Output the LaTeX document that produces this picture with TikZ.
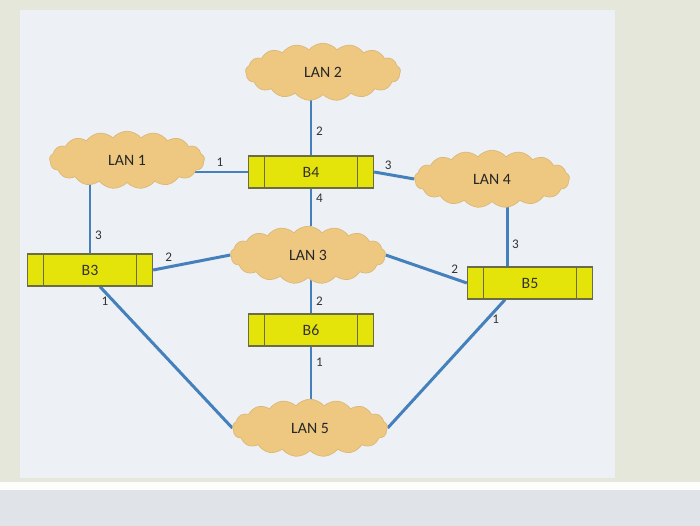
\documentclass[tikz,border=0pt]{standalone}
\usepackage{fontspec}
\setmainfont{Carlito}
\usepackage{xcolor}
\usepackage{tikz}
\usetikzlibrary{positioning, shapes.symbols, backgrounds}

\definecolor{lanfill}{RGB}{238,200,128}
\definecolor{bridgefill}{RGB}{228,228,10}
\definecolor{bridgeline}{RGB}{105,108,70}
\definecolor{wire}{RGB}{68,128,188}
\definecolor{screen}{RGB}{237,240,245}
\definecolor{frame}{RGB}{228,231,218}
\definecolor{desk}{RGB}{224,227,231}

\begin{document}
\begin{tikzpicture}[
        x=0.02cm, y=-0.02cm,
        lan/.style={cloud, cloud puffs=17, cloud puff arc=100, aspect=2.6,
          fill=lanfill, draw=lanfill!92!black, inner sep=0pt,
          minimum width=3.1cm, minimum height=1.15cm,
          font=\fontsize{9}{10}\selectfont, text=black!85},
        bridge/.style={rectangle, draw=bridgeline, fill=bridgefill, thick,
          minimum width=2.5cm, minimum height=0.64cm,
          font=\fontsize{9}{10}\selectfont, text=black!80,
          path picture={
            \draw[bridgeline, thick]
              ([xshift=0.32cm]path picture bounding box.north west) --
              ([xshift=0.32cm]path picture bounding box.south west)
              ([xshift=-0.32cm]path picture bounding box.north east) --
              ([xshift=-0.32cm]path picture bounding box.south east);
          }},
        port/.style={font=\fontsize{7.5}{8}\selectfont, text=black!80, inner sep=2pt},
        every edge/.style={draw=wire, line width=1.7pt},
      ]

      \useasboundingbox (0,0) rectangle (700,526);

      \node[lan] (lan2) at (323,72)  {LAN 2};
      \node[lan] (lan1) at (127,160) {LAN 1};
      \node[lan] (lan4) at (492,179) {LAN 4};
      \node[lan] (lan3) at (308,255) {LAN 3};
      \node[lan] (lan5) at (310,428) {LAN 5};

      \node[bridge] (b4) at (311,172) {B4};
      \node[bridge] (b3) at (90,270)  {B3};
      \node[bridge] (b5) at (530,283) {B5};
      \node[bridge] (b6) at (311,330) {B6};

      \begin{pgfonlayer}{background}
      \fill[frame] (0,0) rectangle (700,526);
      \fill[screen] (20,10) rectangle (615,478);
      \fill[white!92!frame] (0,482) rectangle (700,490);
      \fill[desk] (0,490) rectangle (700,526);

      % wires run under the clouds
      \path
      (b4.north) edge node [port, pos=0.4, right] {2} (b4.north |- lan2.south)
      (b4.west)  edge node [port, pos=0.23, above] {1} (b4.west -| lan1)
      (b4.east)  edge node [port, pos=0.35, above] {3} (lan4.west)
      (b4.south) edge node [port, pos=0.25, right] {4} (b4.south |- lan3.north)
      (b3.north) edge node [port, pos=0.25, right] {3} (b3.north |- lan1.south)
      (b3.east)  edge node [port, pos=0.2, above] {2} (lan3.west)
      ([xshift=0.2cm]b3.south) edge node [port, pos=0.1, left] {1} (lan5.west)
      (b6.north) edge node [port, pos=0.35, right] {2} (b6.north |- lan3.south)
      (b6.south) edge node [port, pos=0.3, right] {1} (b6.south |- lan5.north)
      (b5.west)  edge node [port, pos=0.15, above] {2} (lan3.east)
      ([xshift=-0.46cm]b5.north) edge node [port, pos=0.35, right] {3}
        ([xshift=-0.46cm]b5.north |- lan4.south)
      ([xshift=-0.5cm]b5.south) edge node [port, pos=0.15, right] {1} (lan5.east);
      \end{pgfonlayer}
    \end{tikzpicture}
\end{document}
